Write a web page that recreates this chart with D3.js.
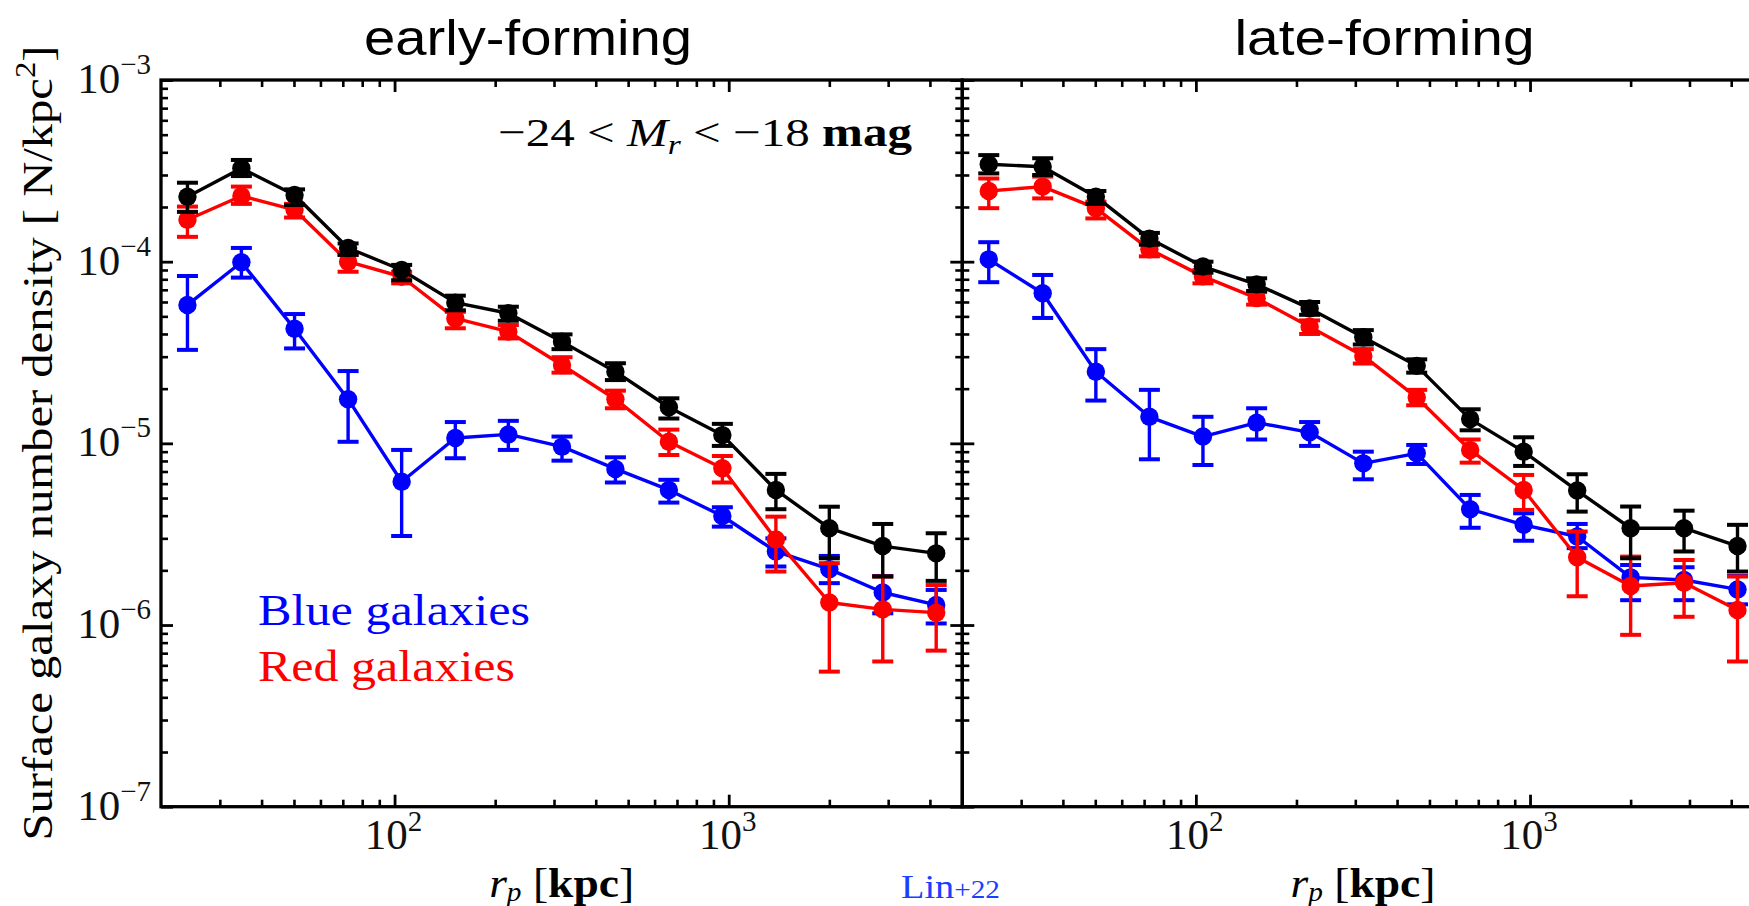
<!DOCTYPE html>
<html>
<head>
<meta charset="utf-8">
<script src="https://cdn.jsdelivr.net/npm/d3@7"></script>
<style>
  html, body { margin: 0; padding: 0; background: #fff; }
  svg { display: block; }
</style>
</head>
<body>
<svg id="chart" width="1749" height="906"></svg>
<script>
// ---------------- data ----------------
const rp = [24.0, 34.8, 50.2, 72.6, 105, 152, 219, 317, 458, 662, 957, 1384, 2000, 2890, 4177];

const earlyAll      = [2.28e-4, 3.27e-4, 2.33e-4, 1.19e-4, 9.0e-5, 5.95e-5, 5.2e-5, 3.63e-5, 2.48e-5, 1.58e-5, 1.11e-5, 5.54e-6, 3.41e-6, 2.72e-6, 2.48e-6];
const earlyAllLow   = [1.88e-4, 2.96e-4, 2.05e-4, 1.09e-4, 7.9e-5, 5.4e-5, 4.73e-5, 3.30e-5, 2.23e-5, 1.37e-5, 9.68e-6, 4.34e-6, 2.33e-6, 1.85e-6, 1.75e-6];
const earlyAllHigh  = [2.72e-4, 3.63e-4, 2.50e-4, 1.26e-4, 9.6e-5, 6.5e-5, 5.65e-5, 3.98e-5, 2.76e-5, 1.77e-5, 1.28e-5, 6.79e-6, 4.48e-6, 3.60e-6, 3.20e-6];

const earlyRed      = [1.70e-4, 2.30e-4, 1.93e-4, 1.0e-4, 8.26e-5, 4.87e-5, 4.12e-5, 2.70e-5, 1.75e-5, 1.02e-5, 7.29e-6, 2.96e-6, 1.33e-6, 1.22e-6, 1.17e-6];
const earlyRedLow   = [1.37e-4, 2.08e-4, 1.75e-4, 8.8e-5, 7.6e-5, 4.3e-5, 3.78e-5, 2.45e-5, 1.56e-5, 8.63e-6, 6.09e-6, 1.97e-6, 5.54e-7, 6.3e-7, 7.23e-7];
const earlyRedHigh  = [2.01e-4, 2.59e-4, 2.08e-4, 1.09e-4, 8.8e-5, 5.3e-5, 4.48e-5, 2.98e-5, 1.95e-5, 1.19e-5, 8.52e-6, 3.95e-6, 2.19e-6, 1.85e-6, 1.66e-6];

const earlyBlue     = [5.78e-5, 9.93e-5, 4.27e-5, 1.75e-5, 6.15e-6, 1.07e-5, 1.12e-5, 9.59e-6, 7.23e-6, 5.54e-6, 3.98e-6, 2.54e-6, 2.03e-6, 1.51e-6, 1.29e-6];
const earlyBlueLow  = [3.27e-5, 8.17e-5, 3.33e-5, 1.02e-5, 3.09e-6, 8.28e-6, 9.2e-6, 8.03e-6, 6.09e-6, 4.72e-6, 3.48e-6, 2.10e-6, 1.70e-6, 1.16e-6, 1.02e-6];
const earlyBlueHigh = [8.34e-5, 1.19e-4, 5.15e-5, 2.50e-5, 9.2e-6, 1.31e-5, 1.33e-5, 1.09e-5, 8.38e-6, 6.30e-6, 4.45e-6, 3.0e-6, 2.40e-6, 1.86e-6, 1.56e-6];

const lateAll       = [3.44e-4, 3.33e-4, 2.28e-4, 1.34e-4, 9.4e-5, 7.5e-5, 5.53e-5, 3.84e-5, 2.67e-5, 1.36e-5, 9.0e-6, 5.50e-6, 3.41e-6, 3.41e-6, 2.72e-6];
const lateAllLow    = [3.06e-4, 3.0e-4, 2.08e-4, 1.24e-4, 8.7e-5, 6.9e-5, 5.1e-5, 3.5e-5, 2.45e-5, 1.18e-5, 7.51e-6, 4.21e-6, 2.33e-6, 2.54e-6, 1.97e-6];
const lateAllHigh   = [3.86e-4, 3.71e-4, 2.45e-4, 1.44e-4, 1.0e-4, 8.1e-5, 6.0e-5, 4.2e-5, 2.9e-5, 1.54e-5, 1.08e-5, 6.76e-6, 4.49e-6, 4.26e-6, 3.56e-6];

const lateRed       = [2.45e-4, 2.59e-4, 1.97e-4, 1.17e-4, 8.3e-5, 6.3e-5, 4.38e-5, 3.03e-5, 1.79e-5, 9.2e-6, 5.54e-6, 2.36e-6, 1.64e-6, 1.71e-6, 1.21e-6];
const lateRedLow    = [1.97e-4, 2.23e-4, 1.73e-4, 1.07e-4, 7.6e-5, 5.8e-5, 4.0e-5, 2.75e-5, 1.62e-5, 7.83e-6, 4.30e-6, 1.44e-6, 8.83e-7, 1.11e-6, 6.3e-7];
const lateRedHigh   = [2.87e-4, 2.94e-4, 2.14e-4, 1.27e-4, 9.0e-5, 6.8e-5, 4.75e-5, 3.3e-5, 1.97e-5, 1.05e-5, 6.70e-6, 3.27e-6, 2.38e-6, 2.28e-6, 1.85e-6];

const lateBlue      = [1.03e-4, 6.70e-5, 2.48e-5, 1.40e-5, 1.09e-5, 1.30e-5, 1.15e-5, 7.76e-6, 8.81e-6, 4.34e-6, 3.56e-6, 3.07e-6, 1.83e-6, 1.77e-6, 1.57e-6];
const lateBlueLow   = [7.71e-5, 4.9e-5, 1.72e-5, 8.17e-6, 7.6e-6, 1.05e-5, 9.68e-6, 6.34e-6, 7.7e-6, 3.43e-6, 2.91e-6, 2.65e-6, 1.37e-6, 1.37e-6, 1.3e-6];
const lateBlueHigh  = [1.28e-4, 8.45e-5, 3.30e-5, 1.97e-5, 1.40e-5, 1.56e-5, 1.31e-5, 9.0e-6, 9.8e-6, 5.2e-6, 4.12e-6, 3.60e-6, 2.14e-6, 2.08e-6, 1.86e-6];

const xMajorTicks = [100, 1000];
const xMinorTicks = [30, 40, 50, 60, 70, 80, 90, 200, 300, 400, 500, 600, 700, 800, 900, 2000, 3000, 4000];
const xTickLabels = [{v: 100, base: "10", exp: "2"}, {v: 1000, base: "10", exp: "3"}];
const yMajorTicks = [1e-7, 1e-6, 1e-5, 1e-4, 1e-3];
const yTickLabels = [{v: 1e-3, exp: "\u22123"}, {v: 1e-4, exp: "\u22124"}, {v: 1e-5, exp: "\u22125"}, {v: 1e-6, exp: "\u22126"}, {v: 1e-7, exp: "\u22127"}];
const panelTitles = ["early-forming", "late-forming"];

// ---------------- layout ----------------
const svg = d3.select("#chart");
svg.append("rect").attr("width", 1749).attr("height", 906).attr("fill", "#fff");

const TOP = 80, BOTTOM = 806.7;
const panels = [
  { x0: 161, x1: 962.3, title: panelTitles[0], tx: 528, tl: 328,
    series: [
      { c: "#0000ff", v: earlyBlue, lo: earlyBlueLow, hi: earlyBlueHigh },
      { c: "#ff0000", v: earlyRed,  lo: earlyRedLow,  hi: earlyRedHigh },
      { c: "#000000", v: earlyAll,  lo: earlyAllLow,  hi: earlyAllHigh } ] },
  { x0: 962.3, x1: 1763.6, title: panelTitles[1], tx: 1384.5, tl: 300,
    series: [
      { c: "#0000ff", v: lateBlue, lo: lateBlueLow, hi: lateBlueHigh },
      { c: "#ff0000", v: lateRed,  lo: lateRedLow,  hi: lateRedHigh },
      { c: "#000000", v: lateAll,  lo: lateAllLow,  hi: lateAllHigh } ] }
];

const y = d3.scaleLog().domain([1e-7, 1e-3]).range([BOTTOM, TOP]);
const yMinor = [];
for (let k = -7; k < -3; k++) for (let m = 2; m <= 9; m++) yMinor.push(m * Math.pow(10, k));

const SERIF = "'Liberation Serif', 'Times New Roman', serif";
const SANS = "'Liberation Sans', Arial, Helvetica, sans-serif";

function styleAxis(g, w) {
  g.select(".domain").remove();
  g.selectAll(".tick line").attr("stroke", "#000").attr("stroke-width", w);
  g.selectAll(".tick text").remove();
}

panels.forEach((p, pi) => {
  const x = d3.scaleLog().domain([20, 5000]).range([p.x0, p.x1]);
  const g = svg.append("g");

  // ticks (inward on all four sides)
  const axes = [
    [d3.axisBottom(x), `translate(0,${BOTTOM})`, xMajorTicks, xMinorTicks],
    [d3.axisTop(x), `translate(0,${TOP})`, xMajorTicks, xMinorTicks],
    [d3.axisLeft(y), `translate(${p.x0},0)`, yMajorTicks, yMinor],
    [d3.axisRight(y), `translate(${p.x1},0)`, yMajorTicks, yMinor]
  ];
  axes.forEach(([ax, tr, maj, min]) => {
    g.append("g").attr("transform", tr)
      .call(ax.tickValues(maj).tickSize(-12).tickFormat(() => ""))
      .call(s => styleAxis(s, 2.8));
    g.append("g").attr("transform", tr)
      .call(ax.tickValues(min).tickSize(-7).tickFormat(() => ""))
      .call(s => styleAxis(s, 2.6));
  });

  // spines
  g.append("rect")
    .attr("x", p.x0).attr("y", TOP)
    .attr("width", p.x1 - p.x0).attr("height", BOTTOM - TOP)
    .attr("fill", "none").attr("stroke", "#000").attr("stroke-width", 3.3);

  // x tick labels
  xTickLabels.forEach(t => {
    const tx = g.append("text")
      .attr("x", x(t.v) - 1).attr("y", 849)
      .attr("text-anchor", "middle")
      .attr("font-family", SERIF).attr("font-size", 43).attr("fill", "#111");
    tx.append("tspan").text(t.base);
    tx.append("tspan").attr("font-size", 29).attr("dy", -18).text(t.exp);
  });

  // x axis label
  const xl = g.append("text")
    .attr("x", (p.x0 + p.x1) / 2).attr("y", 897)
    .attr("text-anchor", "middle")
    .attr("textLength", 145).attr("lengthAdjust", "spacingAndGlyphs")
    .attr("font-family", SERIF).attr("font-size", 42).attr("fill", "#000");
  xl.append("tspan").attr("font-style", "italic").text("r");
  xl.append("tspan").attr("font-style", "italic").attr("font-size", 27).attr("dy", 4).text("p");
  xl.append("tspan").attr("dy", -4).text(" [");
  xl.append("tspan").attr("font-weight", "bold").text("kpc");
  xl.append("tspan").text("]");

  // title
  g.append("text")
    .attr("x", p.tx).attr("y", 55)
    .attr("text-anchor", "middle")
    .attr("textLength", p.tl).attr("lengthAdjust", "spacingAndGlyphs")
    .attr("font-family", SANS).attr("font-size", 50).attr("fill", "#000")
    .text(p.title);

  // series
  p.series.forEach(s => {
    const sg = g.append("g");
    const pts = rp.map((r, i) => ({ r, v: s.v[i], lo: s.lo[i], hi: s.hi[i] }));
    // error bars
    sg.selectAll(".eb").data(pts).enter().append("line")
      .attr("x1", d => x(d.r)).attr("x2", d => x(d.r))
      .attr("y1", d => y(d.lo)).attr("y2", d => y(d.hi))
      .attr("stroke", s.c).attr("stroke-width", 3.4);
    ["lo", "hi"].forEach(k => {
      sg.selectAll(".cap" + k).data(pts).enter().append("line")
        .attr("x1", d => x(d.r) - 10.5).attr("x2", d => x(d.r) + 10.5)
        .attr("y1", d => y(d[k])).attr("y2", d => y(d[k]))
        .attr("stroke", s.c).attr("stroke-width", 4);
    });
    // line
    sg.append("path")
      .attr("d", d3.line().x(d => x(d.r)).y(d => y(d.v))(pts))
      .attr("fill", "none").attr("stroke", s.c).attr("stroke-width", 3.4)
      .attr("stroke-linejoin", "round");
    // markers
    sg.selectAll(".pt").data(pts).enter().append("circle")
      .attr("cx", d => x(d.r)).attr("cy", d => y(d.v)).attr("r", 9.2)
      .attr("fill", s.c);
  });
});

// y tick labels (left panel only)
yTickLabels.forEach(t => {
  const tx = svg.append("text")
    .attr("x", 151).attr("y", y(t.v) + 13)
    .attr("text-anchor", "end")
    .attr("font-family", SERIF).attr("font-size", 43).attr("fill", "#111");
  tx.append("tspan").text("10");
  tx.append("tspan").attr("font-size", 29).attr("dy", -19).text(t.exp);
});

// y axis label
const yl = svg.append("text")
  .attr("transform", "translate(52,443) rotate(-90)")
  .attr("text-anchor", "middle")
  .attr("textLength", 795).attr("lengthAdjust", "spacingAndGlyphs")
  .attr("font-family", SERIF).attr("font-size", 43).attr("fill", "#000");
yl.append("tspan").text("Surface galaxy number density [ N/kpc");
yl.append("tspan").attr("font-size", 29).attr("dy", -17).text("2");
yl.append("tspan").attr("dy", 17).text("]");

// magnitude range annotation
const ann = svg.append("text")
  .attr("x", 912).attr("y", 146)
  .attr("text-anchor", "end")
  .attr("textLength", 414).attr("lengthAdjust", "spacingAndGlyphs")
  .attr("font-family", SERIF).attr("font-size", 41).attr("fill", "#000");
ann.append("tspan").text("\u221224 < ");
ann.append("tspan").attr("font-style", "italic").text("M");
ann.append("tspan").attr("font-style", "italic").attr("font-size", 28).attr("dy", 8).text("r");
ann.append("tspan").attr("dy", -8).text(" < \u221218 ");
ann.append("tspan").attr("font-weight", "bold").text("mag");

// legend texts
svg.append("text").attr("x", 258).attr("y", 625)
  .attr("textLength", 272).attr("lengthAdjust", "spacingAndGlyphs")
  .attr("font-family", SERIF).attr("font-size", 45).attr("fill", "#0000ff")
  .text("Blue galaxies");
svg.append("text").attr("x", 258).attr("y", 681)
  .attr("textLength", 257).attr("lengthAdjust", "spacingAndGlyphs")
  .attr("font-family", SERIF).attr("font-size", 45).attr("fill", "#ff0000")
  .text("Red galaxies");

// credit
const cr = svg.append("text").attr("x", 901).attr("y", 898)
  .attr("textLength", 99).attr("lengthAdjust", "spacingAndGlyphs")
  .attr("font-family", SERIF).attr("font-size", 34).attr("fill", "#1a40ff");
cr.append("tspan").text("Lin");
cr.append("tspan").attr("font-size", 26).text("+22");
</script>
</body>
</html>
